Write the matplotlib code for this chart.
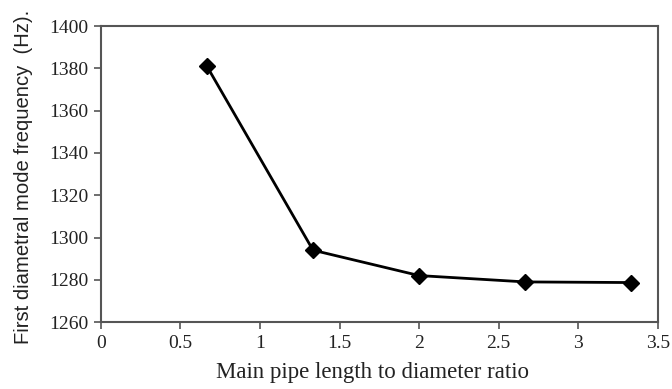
import matplotlib
matplotlib.use("Agg")
import matplotlib.pyplot as plt

ratio = [2/3, 4/3, 2.0, 8/3, 10/3]
freq = [1381, 1294, 1282, 1279, 1278.7]
xticks = [0, 0.5, 1, 1.5, 2, 2.5, 3, 3.5]
xtick_labels = ["0", "0.5", "1", "1.5", "2", "2.5", "3", "3.5"]
yticks = [1260, 1280, 1300, 1320, 1340, 1360, 1380, 1400]

fig = plt.figure(figsize=(6.72, 3.89), dpi=100)
ax = fig.add_axes([0.150, 0.172, 0.829, 0.761])
ax.plot(ratio, freq, color="black", lw=2, marker="D", ms=8, mfc="black", mec="black")
ax.set_xlim(0, 3.5)
ax.set_ylim(1260, 1400)
ax.set_xticks(xticks)
ax.set_xticklabels(xtick_labels)
ax.set_yticks(yticks)
for s in ax.spines.values():
    s.set_color("#555555")
    s.set_linewidth(1.5)
ax.tick_params(direction="out", length=5, width=1.2, color="#555555",
               labelsize=14, pad=4)
for lab in ax.get_xticklabels() + ax.get_yticklabels():
    lab.set_family("Liberation Serif")
    lab.set_color("#222222")
ax.set_xlabel("Main pipe length to diameter ratio", family="Liberation Serif",
              fontsize=16.5, color="#222222")
ax.set_ylabel("First diametral mode frequency  (Hz).", family="Liberation Sans",
              fontsize=14.6, color="#222222")
ax.xaxis.set_label_coords(0.487, -0.136)
ax.yaxis.set_label_coords(-0.122, 0.49)
fig.savefig("out.png", dpi=100)
